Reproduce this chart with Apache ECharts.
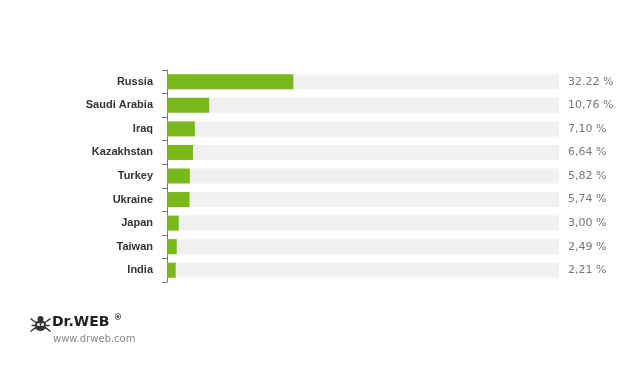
<!DOCTYPE html>
<html><head><meta charset="utf-8">
<script src="https://cdn.jsdelivr.net/npm/echarts@6/dist/echarts.min.js"></script>
<style>html,body{margin:0;padding:0;background:#fff}#c{width:635px;height:367px}</style>
</head><body><div id="c"></div>
<script>
const categories = ['Russia','Saudi Arabia','Iraq','Kazakhstan','Turkey','Ukraine','Japan','Taiwan','India'];
const values = [32.22,10.76,7.10,6.64,5.82,5.74,3.00,2.49,2.21];
const valueLabels = ['32.22 %','10,76 %','7,10 %','6,64 %','5,82 %','5,74 %','3,00 %','2,49 %','2,21 %'];

const chart = echarts.init(document.getElementById('c'));
chart.setOption({
  animation:false,
  backgroundColor:'#fff',
  grid:{left:167,right:76,top:70,bottom:85},
  xAxis:{type:'value',min:0,max:100,show:false},
  yAxis:[{
    type:'category',data:categories,inverse:true,
    axisLine:{show:true,lineStyle:{color:'#777',width:1}},
    axisTick:{show:true,length:5,lineStyle:{color:'#777'}},
    axisLabel:{color:'#333',fontWeight:'bold',fontSize:11,fontFamily:'Liberation Sans, sans-serif',margin:14}
  },{
    type:'category',data:valueLabels,inverse:true,position:'right',
    axisLine:{show:false},axisTick:{show:false},
    axisLabel:{color:'#777',fontSize:11,fontFamily:'DejaVu Sans, sans-serif',margin:9}
  }],
  series:[{
    type:'bar',data:values,barWidth:15,
    itemStyle:{color:'#78b81a'},
    showBackground:true,backgroundStyle:{color:'#f0f0f0'}
  }],
  graphic:[
    {type:'group',left:28,top:316,children:[
      {type:'circle',shape:{cx:10,cy:10,r:5.5},style:{fill:'#333'}},
      {type:'circle',shape:{cx:10,cy:3.5,r:3},style:{fill:'#333'}},
      {type:'polyline',shape:{points:[[0,3],[4,6],[10,10],[16,6],[20,3]]},style:{stroke:'#333',lineWidth:1.5,fill:null}},
      {type:'polyline',shape:{points:[[0,16],[4,13],[10,10],[16,13],[20,16]]},style:{stroke:'#333',lineWidth:1.5,fill:null}},
      {type:'polyline',shape:{points:[[1,10],[19,10]]},style:{stroke:'#333',lineWidth:1.5,fill:null}},
      {type:'circle',shape:{cx:8,cy:9,r:1.5},style:{fill:'#fff'}},
      {type:'circle',shape:{cx:12,cy:9,r:1.5},style:{fill:'#fff'}}
    ]},
    {type:'text',left:52,top:315,style:{text:'Dr.WEB',fill:'#222',font:'bold 14px "DejaVu Sans", sans-serif'}},
    {type:'text',left:114,top:314,style:{text:'®',fill:'#222',font:'bold 8px "DejaVu Sans", sans-serif'}},
    {type:'text',left:53,top:334,style:{text:'www.drweb.com',fill:'#888',font:'10px "DejaVu Sans", sans-serif'}}
  ]
});
</script></body></html>
